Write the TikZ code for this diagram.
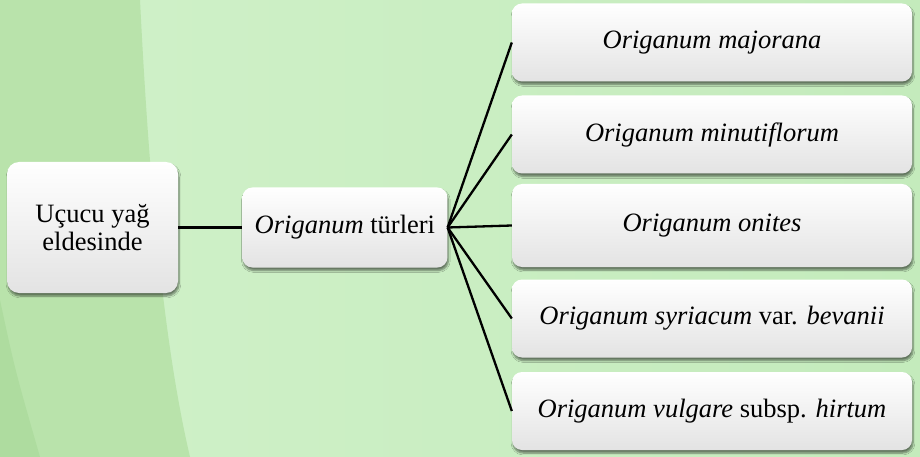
\documentclass[tikz,border=0pt]{standalone}
\usepackage{fontspec}
\setmainfont{Liberation Serif}[ItalicFont={Liberation Serif Italic},
                              BoldFont={Liberation Serif Bold}]
\usetikzlibrary{positioning}
\usetikzlibrary{shadows.blur}
\definecolor{bgfar}{RGB}{174,220,159}
\definecolor{bgleft}{RGB}{185,227,171}
\definecolor{bglight}{RGB}{208,241,201}
\definecolor{bgright}{RGB}{196,235,188}
\tikzset{
box/.style = {rounded corners=10pt, align=center, inner sep=2pt,
              top color=white, middle color=white, bottom color=black!11,
              blur shadow={shadow xshift=1pt, shadow yshift=-3pt,
                           shadow blur steps=6, shadow opacity=50},
              font=\fontsize{26.5}{28}\selectfont},
leaf/.style = {box, minimum width=400pt, minimum height=78pt},
link/.style = {draw=black, line width=2.3pt}
}
\begin{document}
\begin{tikzpicture}[x=1pt, y=-1pt]
    % background
    \useasboundingbox (0,0) rectangle (920,457);
    \shade[left color=bglight, right color=bgright] (0,0) rectangle (920,457);
    \fill[bgleft] (0,0) -- (140,0) .. controls (150,200) and (165,350) .. (190,457) -- (0,457) -- cycle;
    \fill[bgfar] (0,300) .. controls (15,370) .. (40,457) -- (0,457) -- cycle;

    \node[box, minimum width=171pt, minimum height=131pt, rounded corners=12pt] (1) at (92.5,227.5) {Uçucu yağ\\eldesinde};
    \node[box, minimum width=205pt, minimum height=80pt, right=64pt of 1] (2) {\textit{Origanum} türleri};

    \node[leaf] (3) at (712,42.5) {\textit{Origanum majorana}};
    \node[leaf] (4) at (712,134.5) {\textit{Origanum minutiflorum}};
    \node[leaf, minimum height=83pt] (5) at (712,225.5) {\textit{Origanum onites}};
    \node[leaf] (6) at (712,318.5) {\textit{Origanum syriacum} var. \textit{bevanii}};
    \node[leaf] (7) at (712,411) {\textit{Origanum vulgare} subsp. \textit{hirtum}};

    \path
    (1) edge[link] (2)
    (2.east) edge[link] (3.west)
    (2.east) edge[link] (4.west)
    (2.east) edge[link] (5.west)
    (2.east) edge[link] (6.west)
    (2.east) edge[link] (7.west);
\end{tikzpicture}
\end{document}
